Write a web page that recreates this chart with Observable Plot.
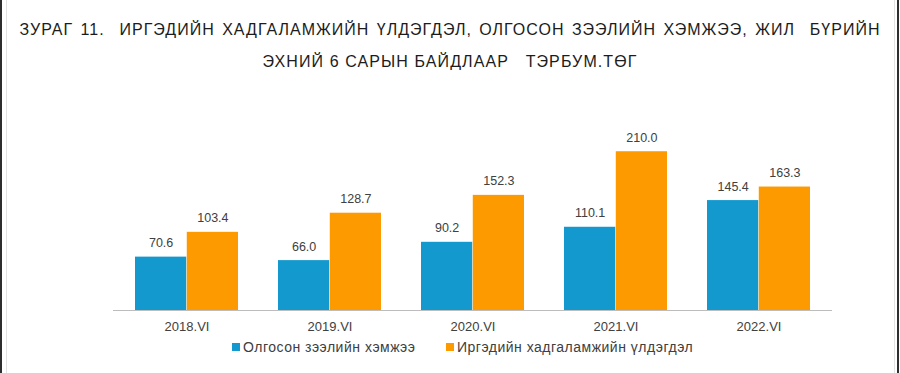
<!DOCTYPE html>
<html>
<head>
<meta charset="utf-8">
<script src="https://cdn.jsdelivr.net/npm/d3@7"></script>
<script src="https://cdn.jsdelivr.net/npm/@observablehq/plot@0.6"></script>
<style>
  html, body { margin: 0; padding: 0; background: #fff; }
  #wrap { position: relative; width: 900px; height: 373px; overflow: hidden; font-family: "Liberation Sans", Arial, sans-serif; }
  .bl { position: absolute; top: 0; bottom: 0; width: 2px; background: #2e2e2e; }
  .bi { position: absolute; top: 0; bottom: 0; width: 1px; background: #e2e2e2; }
  #title { position: absolute; left: 0; top: 0; width: 900px; text-align: center; color: #1c1c1c; font-size: 16px; }
  #t1 { position: absolute; left: 0; width: 900px; top: 21px; letter-spacing: 1px; word-spacing: 2px; white-space: pre; }
  #t2 { position: absolute; left: 0; width: 900px; top: 53px; letter-spacing: 1.1px; white-space: pre; }
  #chart { position: absolute; left: 0; top: 88px; }
  #legend { position: absolute; top: 339px; left: 0; width: 900px; font-size: 14px; color: #404040; letter-spacing: 0.5px; }
  .li { position: absolute; top: 0; white-space: nowrap; }
  .sw { display: inline-block; width: 8px; height: 8px; margin-right: 3px; vertical-align: 1px; }
</style>
</head>
<body>
<div id="wrap">
  <div class="bl" style="left:0"></div>
  <div class="bi" style="left:6px"></div>
  <div class="bi" style="left:894px"></div>
  <div class="bl" style="left:897px"></div>
  <div id="title">
    <div id="t1">ЗУРАГ 11.  ИРГЭДИЙН ХАДГАЛАМЖИЙН ҮЛДЭГДЭЛ, ОЛГОСОН ЗЭЭЛИЙН ХЭМЖЭЭ, ЖИЛ  БҮРИЙН</div>
    <div id="t2">ЭХНИЙ 6 САРЫН БАЙДЛААР   ТЭРБУМ.ТӨГ</div>
  </div>
  <div id="chart"></div>
  <div id="legend"></div>
</div>
<script>
const years = ["2018.VI", "2019.VI", "2020.VI", "2021.VI", "2022.VI"];
const seriesNames = ["Олгосон зээлийн хэмжээ", "Иргэдийн хадгаламжийн үлдэгдэл"];
const loans = [70.6, 66.0, 90.2, 110.1, 145.4];
const savings = [103.4, 128.7, 152.3, 210.0, 163.3];
const colors = ["#1499cf", "#fd9a00"];

const W = 900, H = 250;
const mL = 113, mR = 68, mT = 33, mB = 28;
const padIn = 0.28, padOut = 0.14;
const step = (W - mL - mR) / (years.length - padIn + 2 * padOut);
const bw = step * (1 - padIn);
const half = bw / 2;

const data = [];
years.forEach((y, i) => {
  data.push({year: y, series: seriesNames[0], value: loans[i], side: 0});
  data.push({year: y, series: seriesNames[1], value: savings[i], side: 1});
});
const left = data.filter(d => d.side === 0);
const right = data.filter(d => d.side === 1);

const chart = Plot.plot({
  width: W, height: H,
  marginLeft: mL, marginRight: mR, marginTop: mT, marginBottom: mB,
  style: {fontFamily: "'Liberation Sans', Arial, sans-serif", background: "transparent"},
  x: {domain: years, paddingInner: padIn, paddingOuter: padOut, axis: null},
  y: {domain: [0, 250], axis: null},
  color: {domain: seriesNames, range: colors},
  marks: [
    Plot.barY(left, {x: "year", y: "value", fill: "series", insetRight: half}),
    Plot.barY(right, {x: "year", y: "value", fill: "series", insetLeft: half}),
    Plot.ruleY([0], {stroke: "#bdbdbd", strokeWidth: 1}),
    Plot.text(left, {x: "year", y: "value", text: d => d.value.toFixed(1), dx: -half / 2, dy: -14, fontSize: 12.5, fill: "#404040"}),
    Plot.text(right, {x: "year", y: "value", text: d => d.value.toFixed(1), dx: half / 2, dy: -14, fontSize: 12.5, fill: "#404040"}),
    Plot.axisX({anchor: "bottom", tickSize: 0, tickPadding: 11, label: null, fontSize: 13, color: "#404040"})
  ]
});
document.getElementById("chart").appendChild(chart);

const legend = document.getElementById("legend");
const lx = [232, 446];
seriesNames.forEach((s, i) => {
  const el = document.createElement("div");
  el.className = "li";
  el.style.left = lx[i] + "px";
  el.innerHTML = `<span class="sw" style="background:${colors[i]}"></span>${s}`;
  legend.appendChild(el);
});
</script>
</body>
</html>
